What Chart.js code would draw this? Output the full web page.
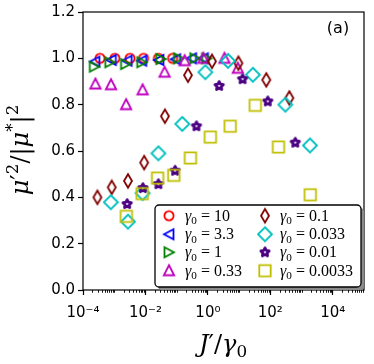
<!DOCTYPE html>
<html>
<head>
<meta charset="utf-8">
<script src="https://cdn.jsdelivr.net/npm/chart.js@4.4.0/dist/chart.umd.min.js"></script>
<style>
  html, body { margin: 0; padding: 0; background: #fff; }
</style>
</head>
<body>
<canvas id="chart" width="374" height="364"></canvas>
<script>
// gamma_0 of each series (legend text)
const gammaLabels = ['10', '3.3', '1', '0.33', '0.1', '0.033', '0.01', '0.0033'];

// x = J'/gamma_0, y = mu'^2/|mu*|^2
const xG10 = [3.5e-4, 1.05e-3, 3.2e-3, 8.7e-3, 2.6e-2, 7.4e-2];
const yG10 = [1.0, 1.0, 1.0, 1.0, 1.0, 1.0];

const xG3p3 = [2.4e-4, 8.1e-4, 2.6e-3, 7.6e-3, 2.7e-2, 9.3e-2, 0.30, 0.72];
const yG3p3 = [0.986, 0.993, 0.99, 0.99, 0.993, 0.996, 1.0, 1.0];

const xG1 = [2.3e-4, 7.2e-4, 2.3e-3, 7.6e-3, 3.1e-2, 0.115, 0.38, 0.91];
const yG1 = [0.964, 0.983, 0.975, 0.983, 0.997, 1.0, 1.0, 1.0];

const xG0p33 = [2.5e-4, 7.9e-4, 2.4e-3, 8.1e-3, 4.1e-2, 0.18, 0.72, 3.4, 9.1];
const yG0p33 = [0.889, 0.886, 0.80, 0.864, 0.94, 0.99, 1.0, 1.0, 0.957];

const xG0p1 = [2.9e-4, 8.3e-4, 2.75e-3, 9.1e-3, 4.2e-2, 0.23, 1.35, 9.5, 74, 407];
const yG0p1 = [0.40, 0.443, 0.471, 0.55, 0.75, 0.927, 0.987, 0.979, 0.907, 0.829];

const xG0p033 = [7.8e-4, 2.75e-3, 8.1e-3, 2.6e-2, 0.151, 0.83, 4.4, 27.5, 302, 1860];
const yG0p033 = [0.379, 0.295, 0.418, 0.59, 0.717, 0.94, 0.989, 0.929, 0.80, 0.624];

const xG0p01 = [2.6e-3, 8.3e-3, 2.6e-2, 8.9e-2, 0.43, 2.3, 12.9, 83, 631];
const yG0p01 = [0.371, 0.44, 0.457, 0.515, 0.707, 0.881, 0.91, 0.814, 0.636];

const xG0p0033 = [2.45e-3, 7.9e-3, 2.45e-2, 8.1e-2, 0.275, 1.2, 5.2, 33, 182, 1905];
const yG0p0033 = [0.318, 0.416, 0.483, 0.495, 0.57, 0.66, 0.707, 0.797, 0.617, 0.411];

// axis ticks
const xTicks = [1e-4, 1e-2, 1, 1e2, 1e4];
const yTicks = [0, 0.2, 0.4, 0.6, 0.8, 1.0, 1.2];

const allX = [xG10, xG3p3, xG1, xG0p33, xG0p1, xG0p033, xG0p01, xG0p0033];
const allY = [yG10, yG3p3, yG1, yG0p33, yG0p1, yG0p033, yG0p01, yG0p0033];
const colors = ['#ff0000', '#0000ff', '#008000', '#bf00bf', '#800000', '#00bfbf', '#4b0082', '#bfbf00'];
const shapes = ['circle', 'triLeft', 'triRight', 'triUp', 'thinDiamond', 'diamond', 'star', 'square'];

// hollow marker images (matplotlib look)
function makeMarker(kind, color) {
  const c = document.createElement('canvas');
  c.width = 18; c.height = 18;
  const g = c.getContext('2d');
  g.strokeStyle = color;
  g.lineWidth = 1.8;
  g.lineJoin = 'miter';
  g.translate(9, 9);
  g.beginPath();
  if (kind === 'circle') {
    g.arc(0, 0, 4.6, 0, Math.PI * 2);
  } else if (kind === 'triLeft') {
    g.moveTo(-5, 0); g.lineTo(4.5, -5); g.lineTo(4.5, 5); g.closePath();
  } else if (kind === 'triRight') {
    g.moveTo(5, 0); g.lineTo(-4.5, -5); g.lineTo(-4.5, 5); g.closePath();
  } else if (kind === 'triUp') {
    g.moveTo(0, -5.5); g.lineTo(5.2, 4.5); g.lineTo(-5.2, 4.5); g.closePath();
  } else if (kind === 'thinDiamond') {
    g.moveTo(0, -6.8); g.lineTo(4, 0); g.lineTo(0, 6.8); g.lineTo(-4, 0); g.closePath();
  } else if (kind === 'diamond') {
    g.moveTo(0, -7); g.lineTo(7, 0); g.lineTo(0, 7); g.lineTo(-7, 0); g.closePath();
  } else if (kind === 'square') {
    g.rect(-5.7, -5.7, 11.4, 11.4);
  } else if (kind === 'star') {
    // thick outline leaves only a small hole, like the original
    for (let i = 0; i < 10; i++) {
      const r = i % 2 === 0 ? 4.4 : 2.2;
      const a = -Math.PI / 2 + i * Math.PI / 5;
      if (i === 0) g.moveTo(r * Math.cos(a), r * Math.sin(a));
      else g.lineTo(r * Math.cos(a), r * Math.sin(a));
    }
    g.closePath();
    g.lineWidth = 2.8;
    g.lineJoin = 'round';
  }
  g.stroke();
  return c;
}

const markers = shapes.map((s, i) => makeMarker(s, colors[i]));

const datasets = gammaLabels.map((lab, i) => ({
  label: lab,
  data: allX[i].map((x, j) => ({ x: x, y: allY[i][j] })),
  pointStyle: markers[i],
  pointRadius: 7,
  borderColor: colors[i],
  order: gammaLabels.length - i   // later series drawn on top, as in the original
}));

function sup(n) {
  const m = { '-': '\u207B', '0': '\u2070', '1': '\u00B9', '2': '\u00B2', '3': '\u00B3', '4': '\u2074', '5': '\u2075' };
  return String(n).split('').map(ch => m[ch]).join('');
}

// draws math-like text, parts = [[text, style]] style: i (italic), r, sub, sup
function drawMath(ctx, parts, x, y, size, family, align) {
  let w = 0;
  const items = parts.map(([t, st]) => {
    const fs = (st === 'sub' || st === 'sup') ? size * 0.7 : size;
    const font = (st === 'i' ? 'italic ' : '') + fs + 'px ' + family;
    ctx.font = font;
    const wd = ctx.measureText(t).width;
    const it = { t: t, font: font, x: w, dy: st === 'sub' ? size * 0.22 : (st === 'sup' ? -size * 0.4 : 0) };
    w += wd;
    return it;
  });
  const x0 = align === 'center' ? x - w / 2 : x;
  ctx.textAlign = 'left';
  ctx.textBaseline = 'alphabetic';
  items.forEach(it => { ctx.font = it.font; ctx.fillText(it.t, x0 + it.x, y + it.dy); });
}

const decorPlugin = {
  id: 'decor',
  afterDraw(chart) {
    const ctx = chart.ctx;
    const a = chart.chartArea;
    const xs = chart.scales.x;
    ctx.save();
    // frame
    ctx.strokeStyle = '#000';
    ctx.lineWidth = 1.2;
    ctx.strokeRect(a.left, a.top, a.right - a.left, a.bottom - a.top);
    // minor ticks on the log axis
    ctx.lineWidth = 0.9;
    ctx.beginPath();
    for (let e = -4; e <= 4; e++) {
      for (let m = 1; m <= 9; m++) {
        const v = m * Math.pow(10, e);
        if (m === 1 && e % 2 === 0) continue;
        const px = Math.round(xs.getPixelForValue(v)) + 0.5;
        ctx.moveTo(px, a.bottom);
        ctx.lineTo(px, a.bottom + 2.8);
      }
    }
    ctx.stroke();

    ctx.fillStyle = '#000';
    // panel label
    ctx.font = '16px "DejaVu Sans"';
    ctx.textAlign = 'center';
    ctx.textBaseline = 'middle';
    ctx.fillText('(a)', 338, 29);

    // axis titles
    drawMath(ctx, [['J', 'i'], ['\u2032', 'r'], ['/', 'r'], ['\u03B3', 'i'], ['0', 'sub']],
      223, 352, 24, '"DejaVu Serif"', 'center');
    ctx.save();
    ctx.translate(28, 150);
    ctx.rotate(-Math.PI / 2);
    drawMath(ctx, [['\u03BC', 'i'], ['\u2032', 'r'], ['2', 'sup'], ['/', 'r'], ['|', 'r'], ['\u03BC', 'i'], ['*', 'sup'], ['|', 'r'], ['2', 'sup']],
      0, 0, 24, '"DejaVu Serif"', 'center');
    ctx.restore();

    // legend box with shadow
    const bx = 155, by = 205, bw = 206, bh = 82;
    ctx.fillStyle = '#8a8a8a';
    ctx.beginPath();
    ctx.roundRect(bx + 3, by + 3, bw, bh, 4);
    ctx.fill();
    ctx.fillStyle = '#fff';
    ctx.strokeStyle = '#000';
    ctx.lineWidth = 1.3;
    ctx.beginPath();
    ctx.roundRect(bx, by, bw, bh, 4);
    ctx.fill();
    ctx.stroke();

    const rows = [215.7, 234.3, 252.3, 270.7];
    gammaLabels.forEach((lab, i) => {
      const col = Math.floor(i / 4);
      const cy = rows[i % 4];
      const mx = col === 0 ? 169 : 265;
      const tx = col === 0 ? 185 : 280;
      const img = markers[i];
      ctx.drawImage(img, mx - img.width / 2, cy - img.height / 2);
      ctx.fillStyle = '#000';
      drawMath(ctx, [['\u03B3', 'i'], ['0', 'sub'], [' = ' + lab, 'r']], tx, cy + 5, 16, '"Liberation Serif"', 'left');
    });
    ctx.restore();
  }
};

const tickFont = { family: '"DejaVu Sans"', size: 15 };

const chart = new Chart(document.getElementById('chart'), {
  type: 'scatter',
  data: { datasets: datasets },
  options: {
    responsive: false,
    animation: false,
    devicePixelRatio: 1,
    layout: { padding: { top: 10, right: 10, left: 0, bottom: 0 } },
    plugins: { legend: { display: false }, tooltip: { enabled: false } },
    scales: {
      x: {
        type: 'logarithmic',
        min: 1e-4,
        max: 1e5,
        afterBuildTicks: s => { s.ticks = xTicks.map(v => ({ value: v })); },
        afterFit: s => { s.height = 74; },
        border: { display: false },
        grid: { drawOnChartArea: false, drawTicks: true, tickLength: 5, tickColor: '#000', tickWidth: 1.2 },
        ticks: {
          autoSkip: false, maxRotation: 0, color: '#000', font: tickFont, padding: 9,
          callback: v => '10' + sup(Math.round(Math.log10(v)))
        }
      },
      y: {
        min: 0,
        max: 1.2,
        afterBuildTicks: s => { s.ticks = yTicks.map(v => ({ value: v })); },
        afterFit: s => { s.width = 83; },
        border: { display: false },
        grid: { drawOnChartArea: false, drawTicks: true, tickLength: 5, tickColor: '#000', tickWidth: 1.2 },
        ticks: {
          color: '#000', font: tickFont, padding: 3,
          callback: v => v.toFixed(1)
        }
      }
    }
  },
  plugins: [decorPlugin]
});
</script>
</body>
</html>
